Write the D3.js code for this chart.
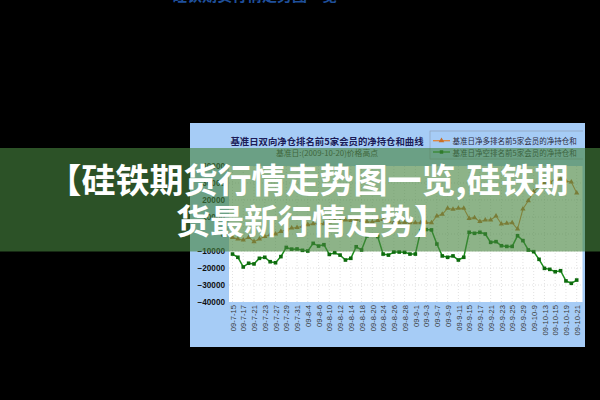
<!DOCTYPE html>
<html><head><meta charset="utf-8">
<script src="https://cdn.jsdelivr.net/npm/d3@7"></script>
<style>
html,body{margin:0;padding:0;background:#000;}
svg{display:block;}
</style></head>
<body>
<svg id="chart" width="600" height="400"></svg>
<script>
// ---- data ----
const dates = ["09-7-15","09-7-16","09-7-17","09-7-20","09-7-21","09-7-22","09-7-23","09-7-24","09-7-27","09-7-28","09-7-29","09-7-30","09-7-31",
"09-8-3","09-8-4","09-8-5","09-8-6","09-8-7","09-8-10","09-8-11","09-8-12","09-8-13","09-8-14","09-8-17","09-8-18","09-8-19","09-8-20","09-8-21","09-8-24","09-8-25","09-8-26","09-8-27","09-8-28","09-8-31",
"09-9-1","09-9-2","09-9-3","09-9-4","09-9-7","09-9-8","09-9-9","09-9-10","09-9-11","09-9-14","09-9-15","09-9-16","09-9-17","09-9-18","09-9-21","09-9-22","09-9-23","09-9-24","09-9-25","09-9-28","09-9-29","09-9-30",
"09-10-9","09-10-12","09-10-13","09-10-14","09-10-15","09-10-16","09-10-19","09-10-20","09-10-21"];
const netLong = [-2000,-3000,-3500,-2000,-4500,-3000,-1500,-500,0,1500,
 2500,3500,3800,4500,5500,6000,6300,6000,7000,8000,
 7500,8200,8000,8500,8000,7200,7000,8000,8500,7500,
 6800,6500,6800,6600,6600,6600,6800,6600,10600,11600,
 15100,14500,15100,15100,9200,9600,7300,8200,8200,10600,
 5900,6300,6600,2900,14700,19600,24900,27800,29800,30500,
 32000,32500,31200,30600,24100];
const netShort = [-11800,-13700,-19400,-17200,-17600,-14300,-13700,-16300,-16900,-13300,
 -7900,-8900,-8800,-9600,-10000,-5500,-7100,-6300,-12000,-11000,
 -12400,-15300,-14300,-7500,-9400,-1200,-700,-1500,-11800,-12400,
 -10600,-10600,-10800,-11800,-11800,2000,2600,2400,-5900,-12900,
 -13700,-12900,-15300,-13700,1000,400,1000,0,-4900,-4500,
 -6900,-7300,-7300,-1000,-3900,-9400,-10400,-14900,-20200,-20800,
 -22200,-21600,-27600,-29000,-27100];
const yTicks = [40000,30000,20000,10000,0,-10000,-20000,-30000,-40000];
const title = "基准日双向净仓排名前5家会员的净持仓和曲线";
const subtitle = "基准日:(2009-10-20)价格高点";
const legendNames = ["基准日净多排名前5家会员的净持仓和","基准日净空排名前5家会员的净持仓和"];
const bannerLines = ["【硅铁期货行情走势图一览,硅铁期","货最新行情走势】"];
const topText = "硅铁期货行情走势图一览";

// ---- drawing ----
const svg = d3.select("#chart");
const cjk = "'Noto Sans CJK SC','Noto Sans',sans-serif";
const colLong = "#e0843a", colShort = "#1b8c1b", mkShort = "#0d6a0d";

svg.append("rect").attr("width",600).attr("height",400).attr("fill","#000");
svg.append("text").attr("x",172).attr("y",0.5).attr("font-family",cjk).attr("font-weight","bold")
  .attr("font-size",15).attr("fill","#1f4f9a").text(topText);

// panel
const panel = {x:190,y:123,w:395,h:224};
svg.append("defs").append("clipPath").attr("id","pclip").append("rect")
  .attr("x",panel.x).attr("y",panel.y).attr("width",panel.w-2).attr("height",panel.h);
svg.append("rect").attr("x",panel.x).attr("y",panel.y).attr("width",panel.w).attr("height",panel.h).attr("fill","#a6ccf6");

const plot = {l:229,r:582.5,t:166,b:302};
svg.append("rect").attr("x",plot.l).attr("y",plot.t).attr("width",plot.r-plot.l).attr("height",plot.b-plot.t).attr("fill","#fff");

const x = d3.scalePoint().domain(d3.range(dates.length)).range([232.5,576.7]);
const y = d3.scaleLinear().domain([-40000,40000]).range([plot.b,plot.t]);
const labelIdx = d3.range(0,dates.length,2);

// grid
const grid = svg.append("g").attr("stroke","#cfcfcf").attr("stroke-width",0.6).attr("stroke-dasharray","1,2");
grid.selectAll("line.h").data(yTicks.slice(1,-1)).join("line")
  .attr("x1",plot.l).attr("x2",plot.r).attr("y1",d=>y(d)).attr("y2",d=>y(d));
grid.selectAll("line.v").data(labelIdx).join("line")
  .attr("x1",d=>x(d)).attr("x2",d=>x(d)).attr("y1",plot.t).attr("y2",plot.b);

// y axis
const ya = svg.append("g").attr("transform",`translate(${plot.l},0)`)
  .call(d3.axisLeft(y).tickValues(yTicks).tickSize(0).tickPadding(4).tickFormat(d3.format("d")));
ya.select(".domain").remove();
ya.selectAll("text").attr("font-family","'Liberation Sans',Arial,sans-serif").attr("font-weight","bold")
  .attr("font-size",8.2).attr("fill","#111");

// x axis
const xa = svg.append("g").attr("transform",`translate(0,${plot.b})`)
  .call(d3.axisBottom(x).tickValues(labelIdx).tickSize(0).tickFormat(i=>dates[i]));
xa.select(".domain").remove();
xa.selectAll("text").attr("transform","rotate(-90)").attr("x",-3).attr("y",0).attr("dy","0.35em")
  .style("text-anchor","end").attr("font-family","'Liberation Sans',Arial,sans-serif")
  .attr("font-size",7.6).attr("fill","#3a3a3a");

// title
svg.append("text").attr("x",327).attr("y",141).attr("dominant-baseline","central").attr("text-anchor","middle")
  .attr("font-family",cjk).attr("font-weight","bold").attr("font-size",9.4).attr("fill","#1c1c58").text(title);
svg.append("text").attr("x",327).attr("y",152.5).attr("dominant-baseline","central").attr("text-anchor","middle")
  .attr("font-family",cjk).attr("font-size",7.8).attr("fill","#333").text(subtitle);

// legend
const lg = svg.append("g").attr("clip-path","url(#pclip)");
lg.append("rect").attr("x",430).attr("y",131).attr("width",170).attr("height",28)
  .attr("fill","none").attr("stroke","#8a9ab0").attr("stroke-width",0.6);
const legendCols = [colLong, colShort];
const legendSyms = [d3.symbolTriangle, d3.symbolSquare];
legendNames.forEach((n,k)=>{
  const ly = 140.7 + k*11.3;
  lg.append("line").attr("x1",433).attr("x2",450).attr("y1",ly).attr("y2",ly).attr("stroke",legendCols[k]).attr("stroke-width",1.3);
  lg.append("path").attr("d",d3.symbol(legendSyms[k]).size(k?12:14)()).attr("transform",`translate(441.5,${ly})`)
    .attr("fill",k?mkShort:"#c8702a");
  lg.append("text").attr("x",452.5).attr("y",ly).attr("dominant-baseline","central")
    .attr("font-family",cjk).attr("font-size",7.5).attr("fill","#2a2a40").text(n);
});

// series
const line = d3.line().x((d,i)=>x(i)).y(d=>y(d));
svg.append("path").datum(netLong).attr("d",line).attr("fill","none").attr("stroke",colLong).attr("stroke-width",1.1);
svg.selectAll("path.mkL").data(netLong).join("path").attr("class","mkL")
  .attr("d",d3.symbol(d3.symbolTriangle).size(12)()).attr("transform",(d,i)=>`translate(${x(i)},${y(d)})`)
  .attr("fill","#c8702a");
svg.append("path").datum(netShort).attr("d",line).attr("fill","none").attr("stroke",colShort).attr("stroke-width",1.5);
svg.selectAll("rect.mkS").data(netShort).join("rect").attr("class","mkS")
  .attr("x",(d,i)=>x(i)-1.8).attr("y",d=>y(d)-1.8).attr("width",3.6).attr("height",3.6).attr("fill",mkShort);

// banner overlay
svg.append("rect").attr("x",0).attr("y",148).attr("width",600).attr("height",103.5)
  .attr("fill","rgb(71,132,63)").attr("fill-opacity",0.62);
const bx = [47.5,176], by = [192.5,233.5];
bannerLines.forEach((t,k)=>{
  svg.append("text").attr("x",bx[k]).attr("y",by[k]).attr("font-family",cjk).attr("font-weight","bold")
    .attr("font-size",34).attr("fill","#fff").text(t);
});
</script>
</body></html>
